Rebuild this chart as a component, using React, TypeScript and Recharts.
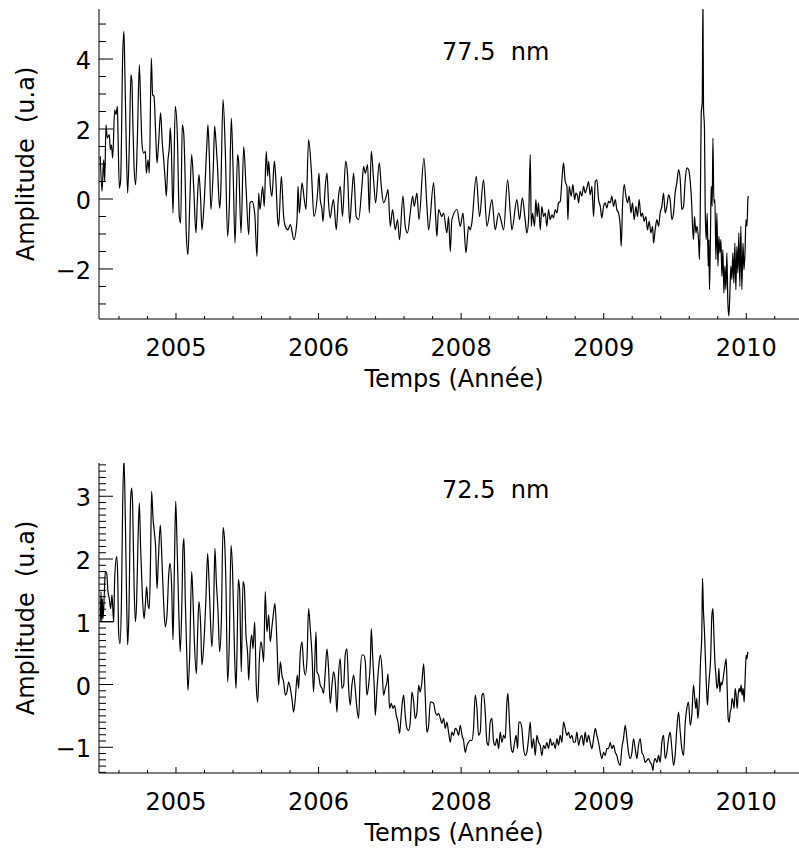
import React from "react"
import { LineChart, Line, XAxis, YAxis } from "recharts"

// major x ticks sit at 0..4, labelled with these years
const yearTicks = [0, 1, 2, 3, 4]
const yearLabels = ["2005", "2006", "2008", "2009", "2010"]

// 77.5 nm series (x in major-tick units)
const t775 = [
  -0.531, -0.519, -0.507, -0.5, -0.491, -0.482, -0.468, -0.46, -0.453, -0.444,
  -0.43, -0.421, -0.411, -0.407, -0.397, -0.388, -0.374, -0.365, -0.358, -0.348,
  -0.339, -0.327, -0.316, -0.309, -0.302, -0.295, -0.283, -0.271, -0.257, -0.248,
  -0.238, -0.227, -0.215, -0.208, -0.196, -0.187, -0.173, -0.164, -0.154, -0.143,
  -0.133, -0.122, -0.108, -0.096, -0.086, -0.075, -0.068, -0.056, -0.047, -0.04,
  -0.033, -0.021, -0.005, 0.009, 0.023, 0.033, 0.044, 0.054, 0.065, 0.072,
  0.084, 0.096, 0.11, 0.124, 0.14, 0.15, 0.161, 0.173, 0.182, 0.196,
  0.217, 0.224, 0.234, 0.245, 0.262, 0.271, 0.281, 0.29, 0.306, 0.313,
  0.33, 0.346, 0.362, 0.374, 0.388, 0.4, 0.414, 0.432, 0.439, 0.456,
  0.475, 0.491, 0.51, 0.519, 0.533, 0.552, 0.568, 0.58, 0.589, 0.608,
  0.619, 0.633, 0.643, 0.65, 0.662, 0.673, 0.69, 0.701, 0.713, 0.72,
  0.739, 0.755, 0.767, 0.785, 0.802, 0.827, 0.849, 0.856, 0.865, 0.884,
  0.9, 0.912, 0.93, 0.949, 0.968,
  0.993, 1.003, 1.012, 1.024, 1.031, 1.047, 1.059, 1.07, 1.082, 1.094,
  1.105, 1.124, 1.14, 1.152, 1.168, 1.19, 1.204, 1.218, 1.234, 1.246,
  1.264, 1.281, 1.304, 1.316, 1.328, 1.344, 1.356, 1.37, 1.386, 1.4,
  1.426, 1.44, 1.456, 1.475, 1.487, 1.503, 1.519, 1.538, 1.554, 1.568,
  1.592, 1.608, 1.624, 1.643, 1.66, 1.671, 1.69, 1.704, 1.739, 1.76,
  1.772, 1.807, 1.821, 1.83, 1.842, 1.865, 1.877, 1.9, 1.912, 1.924,
  1.935, 1.971, 1.994, 2.013, 2.034, 2.052, 2.064, 2.075, 2.106, 2.129,
  2.157, 2.181, 2.216, 2.239, 2.263, 2.279, 2.298, 2.326, 2.345, 2.356,
  2.391, 2.41, 2.429, 2.449,
  2.461, 2.473, 2.485, 2.492, 2.501, 2.515, 2.524, 2.534, 2.543, 2.555,
  2.566, 2.578, 2.59, 2.601, 2.613, 2.625, 2.637, 2.648, 2.66, 2.672,
  2.683, 2.695, 2.707, 2.718, 2.73, 2.742, 2.749, 2.758, 2.772, 2.784,
  2.796, 2.805, 2.817, 2.824, 2.835, 2.847, 2.859, 2.87, 2.882, 2.894,
  2.905, 2.917, 2.929, 2.941, 2.952, 2.964, 2.976, 2.987, 2.999, 3.011,
  3.022, 3.034, 3.046, 3.057, 3.069, 3.081, 3.092, 3.104, 3.116, 3.123,
  3.132, 3.144, 3.156, 3.167, 3.179, 3.191, 3.202, 3.214, 3.226, 3.237,
  3.249, 3.261, 3.272, 3.284, 3.296, 3.307, 3.319, 3.331, 3.343, 3.35,
  3.361, 3.373, 3.385, 3.396, 3.408, 3.42, 3.431, 3.443, 3.455, 3.466,
  3.478, 3.49, 3.501, 3.513, 3.525, 3.537, 3.548, 3.56, 3.572, 3.583,
  3.595, 3.607, 3.618, 3.623, 3.63, 3.637, 3.647, 3.654, 3.665, 3.672,
  3.679, 3.684, 3.691, 3.696, 3.7, 3.707, 3.712, 3.719, 3.726, 3.733,
  3.738, 3.742, 3.749, 3.754, 3.761, 3.766, 3.773, 3.78, 3.787, 3.794,
  3.801, 3.808, 3.815, 3.822, 3.829, 3.836, 3.843, 3.85, 3.857, 3.864,
  3.871, 3.878, 3.885, 3.892, 3.899, 3.906, 3.913, 3.92, 3.927, 3.934,
  3.941, 3.948, 3.955, 3.962, 3.969, 3.977, 3.984, 3.991, 3.998, 4.005,
  4.012, 4.016,
]
const amp775 = [
  1.22, 0.22, 1.12, 0.5, 2.12, 1.74, 1.84, 1.41, 1.55, 1.17,
  2.55, 2.41, 2.65, 1.93, 0.31, 0.55, 4.08, 4.79, 3.5, 1.41,
  0.17, 1.6, 3.55, 3.36, 2.08, 1.03, 0.41, 1.7, 3.84, 2.74,
  1.55, 1.31, 1.36, 0.74, 1.12, 0.74, 4.03, 2.98, 2.93, 1.93,
  1.03, 1.6, 2.46, 1.6, 1.12, 0.5, 0.08, 1.12, 1.46, 2.03,
  1.5, -0.4, 2.65, 1.89, -0.5, -0.69, 2.12, 1.89, 0.46, -0.97,
  -1.59, -0.21, 1.27, 0.36, -0.97, -0.02, 0.7, -0.02, -0.88, -0.21,
  1.6, 2.12, 1.22, -0.3, 0.93, 2.08, 1.6, 1.03, -0.26, 0.08,
  2.84, 1.36, -1.07, -0.21, 2.31, 0.93, -1.26, 1.27, 1.08, -0.97,
  1.5, 0.36, -1.02, -0.11, -0.07, -0.4, -1.64, 0.17, -0.3, 0.36,
  -0.21, 1.36, 0.65, 1.08, 0.36, 0.08, 1.08, 0.5, -0.59, -0.78,
  0.65, -0.5, -0.78, -0.88, -0.73, -1.16, -0.59, 0.36, -0.4, 0.46,
  -0.02, -0.3, 1.7, 0.84, -0.5,
  0.17, 0.74, -0.02, -0.3, -0.64, 0.36, 0.74, -0.11, -0.54, -0.21,
  -0.02, -0.88, 0.08, 0.36, -0.5, 1.08, 0.65, -0.69, 0.17, 0.74,
  -0.5, -0.59, 0.36, 0.93, 0.74, 0.98, -0.4, 1.36, 0.55, -0.11,
  1.03, 0.36, -0.11, 0.08, 0.27, -0.78, -0.3, -0.88, -0.59, -1.16,
  0.08, -0.78, -0.97, -0.4, 0.08, -0.21, 0.17, -0.59, 1.17, -0.21,
  -0.88, 0.46, -0.5, -1.07, -0.3, -0.5, -0.4, -0.97, -0.5, -1.5,
  -0.59, -0.3, -0.78, -0.4, -1.54, -0.78, -0.88, -0.69, 0.65, -0.5,
  0.55, -0.78, -0.02, -0.88, -0.4, -0.59, -0.88, 0.55, -0.4, -0.88,
  -0.02, -0.59, 0.03, -0.59,
  -0.97, -0.59, 1.27, -0.78, -0.4, -0.78, -0.02, -0.5, -0.11, -0.88,
  -0.21, -0.5, -0.4, -0.78, -0.3, -0.59, -0.45, -0.54, -0.3, -0.4,
  -0.11, -0.07, 0.55, 1.03, 0.5, 0.36, -0.59, 0.36, 0.08, 0.41,
  -0.02, 0.17, 0.08, -0.11, 0.22, 0.08, 0.36, 0.17, 0.31, 0.5,
  0.12, 0.36, -0.5, 0.5, 0.55, -0.02, -0.21, -0.54, -0.21, -0.11,
  -0.26, -0.07, -0.11, 0.08, -0.21, -0.02, -0.3, -0.4, -0.78, -1.35,
  -0.21, 0.41, 0.08, -0.11, 0.08, -0.4, -0.11, -0.59, -0.21, -0.5,
  -0.02, -0.5, -0.4, -0.64, -0.5, -0.88, -0.64, -0.97, -0.78, -1.26,
  -0.88, -0.59, -0.78, -0.4, -0.21, 0.17, -0.4, -0.21, 0.12, -0.02,
  -0.59, -0.4, 0.17, 0.46, 0.84, 0.55, -0.3, -0.21, 0.55, 0.89,
  0.84, 0.5, -0.21, -0.78, -1.16, -0.5, -0.97, -0.78, -1.16, -1.73,
  0.36, 2.46, 2.74, 5.7, 2.65, 1.98, -0.3, -1.16, -0.4, -1.92,
  -1.16, -2.59, -0.97, 0.36, -0.21, 1.74, -0.11, -0.02, -1.73, -0.4,
  -1.92, -1.07, -1.54, -1.16, -2.21, -1.45, -2.69, -1.92, -2.59, -1.54,
  -2.97, -3.35, -2.69, -1.92, -2.3, -1.54, -2.4, -1.26, -2.59, -1.35,
  -2.11, -0.97, -2.5, -0.78, -2.59, -1.26, -2.02, -1.54, -0.59, -0.78,
  0.03, 0.08,
]

// 72.5 nm series (first sample sits right of the second one, as in the plot)
const t725 = [
  -0.437, -0.531,
  -0.526, -0.521, -0.517, -0.512, -0.503, -0.496, -0.486, -0.477, -0.468, -0.458,
  -0.449, -0.442, -0.437, -0.43, -0.416, -0.409, -0.402, -0.393, -0.383, -0.374,
  -0.365, -0.355, -0.346, -0.339, -0.33, -0.318, -0.311, -0.304, -0.295, -0.285,
  -0.276, -0.266, -0.257, -0.248, -0.236, -0.224, -0.215, -0.206, -0.196, -0.187,
  -0.178, -0.171, -0.161, -0.15, -0.143, -0.133, -0.124, -0.11, -0.098, -0.086,
  -0.075, -0.063, -0.051, -0.042, -0.03, -0.021, -0.012, -0.002, 0.007, 0.019,
  0.03, 0.042, 0.049, 0.056, 0.065, 0.077, 0.084, 0.096, 0.11, 0.119,
  0.129, 0.143, 0.152, 0.161, 0.173, 0.182, 0.196, 0.21, 0.222, 0.231,
  0.243, 0.252, 0.264, 0.273, 0.283, 0.295, 0.306, 0.318, 0.33, 0.339,
  0.351, 0.362, 0.374, 0.386, 0.397, 0.411, 0.421, 0.428, 0.437, 0.446,
  0.458, 0.47, 0.479, 0.491, 0.503, 0.51, 0.521, 0.531, 0.54, 0.552,
  0.563, 0.573, 0.585, 0.596, 0.605, 0.615, 0.626, 0.638, 0.65, 0.661,
  0.673, 0.685, 0.694, 0.708, 0.72, 0.732, 0.743, 0.755, 0.767, 0.778,
  0.79, 0.802, 0.813, 0.825, 0.837, 0.851, 0.86, 0.872, 0.884, 0.895,
  0.907, 0.919, 0.93, 0.942, 0.954, 0.965, 0.982,
  0.989, 1.0, 1.012, 1.024, 1.035, 1.047, 1.059, 1.07, 1.082, 1.094,
  1.105, 1.117, 1.129, 1.14, 1.152, 1.164, 1.176, 1.187, 1.199, 1.211,
  1.222, 1.234, 1.246, 1.257, 1.269, 1.281, 1.293, 1.304, 1.316, 1.328,
  1.339, 1.351, 1.363, 1.37, 1.379, 1.391, 1.398, 1.41, 1.421, 1.433,
  1.445, 1.456, 1.468, 1.48, 1.487, 1.498, 1.51, 1.522, 1.533, 1.545,
  1.557, 1.568, 1.578, 1.587, 1.597, 1.608, 1.62, 1.632, 1.643, 1.655,
  1.667, 1.678, 1.69, 1.702, 1.713, 1.725, 1.737, 1.748, 1.76, 1.772,
  1.784, 1.795, 1.807, 1.819, 1.83, 1.842, 1.854, 1.865, 1.877, 1.889,
  1.9, 1.912, 1.924, 1.935, 1.947, 1.959, 1.971, 1.982, 1.994, 2.006,
  2.017, 2.029, 2.041, 2.052, 2.064, 2.076, 2.087, 2.099, 2.111, 2.122,
  2.134, 2.146, 2.157, 2.169, 2.181, 2.192, 2.204, 2.216, 2.228, 2.239,
  2.251, 2.263, 2.274, 2.286, 2.298, 2.309, 2.321, 2.328, 2.34, 2.352,
  2.363, 2.375, 2.386, 2.396, 2.405, 2.414, 2.426, 2.438, 2.45, 2.461,
  2.473,
  2.485, 2.496, 2.508, 2.52, 2.531, 2.543, 2.555, 2.566, 2.578, 2.59,
  2.601, 2.613, 2.625, 2.637, 2.648, 2.66, 2.672, 2.683, 2.695, 2.707,
  2.718, 2.73, 2.742, 2.754, 2.765, 2.777, 2.789, 2.8, 2.812, 2.824,
  2.835, 2.847, 2.859, 2.87, 2.882, 2.894, 2.905, 2.917, 2.929, 2.941,
  2.952, 2.964, 2.976, 2.987, 2.999, 3.011, 3.022, 3.034, 3.046, 3.057,
  3.069, 3.081, 3.092, 3.104, 3.116, 3.127, 3.139, 3.151, 3.163, 3.174,
  3.186, 3.198, 3.209, 3.221, 3.233, 3.244, 3.256, 3.268, 3.279, 3.291,
  3.303, 3.314, 3.326, 3.338, 3.345, 3.352, 3.361, 3.373, 3.385, 3.396,
  3.408, 3.42, 3.431, 3.443, 3.455, 3.466, 3.478, 3.49, 3.501, 3.513,
  3.525, 3.537, 3.548, 3.56, 3.572, 3.583, 3.595, 3.607, 3.618, 3.63,
  3.637, 3.646, 3.653, 3.66, 3.67, 3.679, 3.688, 3.693, 3.7, 3.707,
  3.714, 3.721, 3.728, 3.735, 3.742, 3.749, 3.759, 3.766, 3.773, 3.78,
  3.787, 3.794, 3.801, 3.808, 3.815, 3.822, 3.829, 3.841, 3.852, 3.859,
  3.866, 3.873, 3.88, 3.887, 3.894, 3.901, 3.908, 3.915, 3.922, 3.929,
  3.936, 3.943, 3.95, 3.957, 3.964, 3.971, 3.978, 3.985, 3.992, 3.999,
  4.004, 4.011,
]
const amp725 = [
  1.0, 1.0,
  1.48, 1.0, 1.37, 1.05, 1.43, 1.8, 1.77, 1.48, 1.37, 1.21,
  1.43, 1.16, 1.0, 1.69, 2.04, 1.75, 0.81, 0.65, 1.27, 2.86,
  3.6, 2.6, 1.32, 0.63, 1.16, 2.97, 3.13, 2.86, 1.69, 1.0,
  1.32, 2.33, 2.89, 2.17, 1.43, 1.05, 1.27, 1.56, 1.27, 1.21,
  2.07, 3.08, 2.65, 2.39, 2.2, 1.53, 1.96, 2.54, 1.96, 1.27,
  0.92, 1.11, 1.75, 1.93, 1.53, 0.71, 1.75, 2.92, 2.28, 1.21,
  0.52, 1.37, 2.17, 2.33, 1.37, 0.36, -0.09, 0.47, 1.8, 1.37,
  0.68, 0.17, 0.84, 1.32, 0.95, 0.31, 0.68, 1.37, 2.09, 1.69,
  0.95, 0.6, 1.21, 2.17, 1.64, 1.16, 0.52, 1.0, 2.5, 2.36,
  1.53, 0.04, 0.68, 2.22, 1.8, 0.47, -0.06, 0.52, 1.67, 1.53,
  0.2, 1.64, 1.56, 0.79, 0.47, 0.07, 0.6, 0.79, 0.57, 1.0,
  -0.01, -0.28, 0.41, 0.68, 0.57, 0.36, 1.48, 0.84, 1.11, 0.68,
  0.92, 1.16, 1.29, 0.68, -0.01, 0.36, 0.15, 0.04, -0.17, -0.12,
  0.04, -0.06, -0.22, -0.44, -0.22, 0.15, -0.06, 0.52, 0.68, 0.31,
  0.15, 0.41, 1.21, 0.89, 0.47, -0.12, 0.84,
  0.2, 0.15, -0.01, -0.06, -0.14, 0.2, 0.57, 0.26, -0.3, -0.01,
  0.2, 0.04, -0.44, 0.15, 0.41, -0.06, -0.01, 0.47, 0.57, -0.06,
  -0.33, -0.01, 0.15, -0.06, -0.38, -0.54, 0.2, 0.47, 0.47, 0.36,
  -0.17, -0.01, 0.36, 0.89, 0.47, -0.06, -0.49, -0.06, 0.26, 0.47,
  0.26, -0.17, -0.06, 0.04, 0.17, -0.38, -0.3, -0.38, -0.33, -0.49,
  -0.6, -0.78, -0.54, -0.3, -0.17, -0.49, -0.7, -0.73, -0.6, -0.12,
  -0.28, -0.54, -0.44, -0.01, -0.12, 0.04, 0.33, -0.17, -0.76, -0.65,
  -0.28, -0.28, -0.3, -0.44, -0.49, -0.46, -0.54, -0.62, -0.54, -0.7,
  -0.6, -0.76, -0.92, -0.76, -0.81, -0.7, -0.73, -0.81, -0.65, -0.81,
  -0.89, -1.08, -0.97, -0.92, -0.89, -0.89, -0.7, -0.17, -0.38, -0.81,
  -0.76, -0.17, -0.14, -0.44, -0.92, -0.97, -0.6, -0.54, -0.92, -0.97,
  -0.86, -1.02, -0.76, -0.92, -0.81, -0.86, -0.28, -0.14, -0.65, -1.02,
  -1.08, -0.92, -0.81, -1.02, -0.6, -0.6, -0.7, -1.02, -1.13, -1.08,
  -0.86,
  -0.6, -1.02, -0.86, -1.13, -0.81, -0.92, -0.97, -1.13, -0.97, -1.02,
  -0.92, -1.02, -0.86, -0.97, -0.92, -1.02, -0.86, -0.97, -0.81, -0.92,
  -0.6, -0.7, -0.81, -0.76, -0.86, -0.81, -0.92, -0.92, -0.76, -0.97,
  -0.86, -0.81, -0.97, -0.76, -0.92, -0.81, -0.92, -1.02, -0.86, -0.7,
  -0.81, -0.92, -1.08, -1.18, -1.08, -1.13, -1.02, -1.02, -0.92, -1.02,
  -0.97, -1.08, -1.13, -1.24, -1.29, -1.02, -0.86, -0.65, -0.86, -1.08,
  -1.18, -1.08, -0.86, -1.02, -1.18, -0.97, -0.86, -1.08, -1.13, -1.24,
  -1.21, -1.18, -1.24, -1.29, -1.37, -1.24, -1.18, -1.24, -1.13, -1.24,
  -0.92, -0.81, -1.18, -1.08, -0.86, -0.76, -1.02, -1.29, -1.13, -0.7,
  -0.44, -0.76, -1.02, -1.13, -0.6, -0.38, -0.28, -0.65, -0.49, -0.01,
  -0.17, -0.38, -0.22, -0.54, -0.28, 0.36, 0.79, 1.69, 1.16, 0.84,
  0.36, -0.06, -0.33, -0.06, 0.15, 0.36, 1.11, 1.21, 0.79, 0.36,
  0.15, -0.06, -0.01, 0.26, -0.12, 0.04, -0.01, 0.15, 0.33, 0.41,
  -0.06, -0.54, -0.6, -0.44, -0.38, -0.22, -0.28, -0.38, -0.06, -0.17,
  -0.38, -0.17, -0.06, -0.12, -0.01, -0.17, -0.06, -0.28, 0.09, 0.47,
  0.41, 0.52,
]

const xDomain = [-0.54, 4.44]
const domain775 = [-3.43, 5.43]
const major775 = [-2, 0, 2, 4]
const domain725 = [-1.41, 3.53]
const major725 = [-1, 0, 1, 2, 3]

const FONT = "DejaVu Sans, sans-serif"
const INK = "#000"

const steps = (from: number, to: number, step: number) => {
  const out: number[] = []
  for (let v = from; v <= to + 1e-9; v += step) out.push(Math.round(v * 100) / 100)
  return out
}
const xTicks = steps(-0.4, 4.4, 0.2)
const yTicks775 = steps(-3, 5, 0.5)
const yTicks725 = steps(-1.4, 3.5, 0.1)

const fmt = (v: number) => (v < 0 ? `\u2212${-v}` : `${v}`)

const xTick = (side: "bottom" | "top") => (p: any) => {
  const v = p.payload.value
  const major = yearTicks.includes(v)
  const len = major ? 6 : 3
  const dir = side === "bottom" ? -1 : 1
  return (
    <g>
      <line x1={p.x} x2={p.x} y1={p.y} y2={p.y + dir * len} stroke={INK} />
      {side === "bottom" && major && (
        <text x={p.x} y={p.y + 37} textAnchor="middle" fontSize={24} fontFamily={FONT} fill={INK}>
          {yearLabels[yearTicks.indexOf(v)]}
        </text>
      )}
    </g>
  )
}

const yTick = (side: "left" | "right", majors: number[]) => (p: any) => {
  const v = p.payload.value
  const major = majors.includes(v)
  const len = major ? 14 : 7
  const dir = side === "left" ? 1 : -1
  return (
    <g>
      <line x1={p.x} x2={p.x + dir * len} y1={p.y} y2={p.y} stroke={INK} />
      {side === "left" && major && (
        <text x={p.x - 8} y={p.y + 10} textAnchor="end" fontSize={24} fontFamily={FONT} fill={INK}>
          {fmt(v)}
        </text>
      )}
    </g>
  )
}

const xTitle = (props: any) => {
  const vb = props.viewBox
  return (
    <text x={vb.x + vb.width / 2} y={vb.y + 68} textAnchor="middle" fontSize={24} fontFamily={FONT} fill={INK}>
      Temps (Année)
    </text>
  )
}

const yTitle = (props: any) => {
  const vb = props.viewBox
  const cx = vb.x + 34
  const cy = vb.y + vb.height / 2
  return (
    <text
      x={cx} y={cy} transform={`rotate(-90 ${cx} ${cy})`} textAnchor="middle"
      fontSize={24} fontFamily={FONT} fill={INK} style={{ whiteSpace: "pre" }}
    >
      {"Amplitude  (u.a)"}
    </text>
  )
}

interface PanelProps {
  tVals: number[]
  aVals: number[]
  title: string
  titleY: number
  yDomain: number[]
  yTicks: number[]
  yMajor: number[]
  height: number
  marginTop: number
}

const Panel = ({ tVals, aVals, title, titleY, yDomain, yTicks, yMajor, height, marginTop }: PanelProps) => {
  const rows = tVals.map((t, i) => ({ t, a: aVals[i] }))
  const plotH = 310
  return (
    <LineChart width={812} height={height} data={rows} margin={{ top: marginTop, right: 3, bottom: 0, left: 0 }}>
      <XAxis
        xAxisId="b" dataKey="t" type="number" domain={xDomain} allowDataOverflow
        ticks={xTicks} interval={0} tickSize={0} tickMargin={0} tickLine={false}
        height={height - marginTop - plotH} stroke={INK} tick={xTick("bottom")}
        label={{ content: xTitle }}
      />
      <XAxis
        xAxisId="t" orientation="top" dataKey="t" type="number" domain={xDomain} allowDataOverflow
        ticks={xTicks} interval={0} tickSize={0} tickMargin={0} tickLine={false}
        height={0} stroke={INK} tick={xTick("top")}
      />
      <YAxis
        yAxisId="l" type="number" domain={yDomain} allowDataOverflow
        ticks={yTicks} interval={0} tickSize={0} tickMargin={0} tickLine={false}
        width={99} stroke={INK} tick={yTick("left", yMajor)}
        label={{ content: yTitle }}
      />
      <YAxis
        yAxisId="r" orientation="right" type="number" domain={yDomain} allowDataOverflow
        ticks={yTicks} interval={0} tickSize={0} tickMargin={0} tickLine={false}
        width={0} stroke={INK} tick={yTick("right", yMajor)}
      />
      <Line
        xAxisId="b" yAxisId="l" dataKey="a" type="monotoneX" stroke={INK} strokeWidth={1.2}
        dot={false} isAnimationActive={false}
      />
      <text x={442} y={titleY} fontSize={24} fontFamily={FONT} fill={INK} style={{ whiteSpace: "pre" }}>
        {title}
      </text>
    </LineChart>
  )
}

export default function App() {
  return (
    <div style={{ position: "absolute", left: 0, top: 0, width: 799, height: 849, overflow: "hidden", background: "#fff" }}>
      <Panel
        tVals={t775} aVals={amp775} title="77.5  nm" titleY={60}
        yDomain={domain775} yTicks={yTicks775} yMajor={major775}
        height={425} marginTop={9}
      />
      <Panel
        tVals={t725} aVals={amp725} title="72.5  nm" titleY={73}
        yDomain={domain725} yTicks={yTicks725} yMajor={major725}
        height={424} marginTop={38}
      />
    </div>
  )
}
